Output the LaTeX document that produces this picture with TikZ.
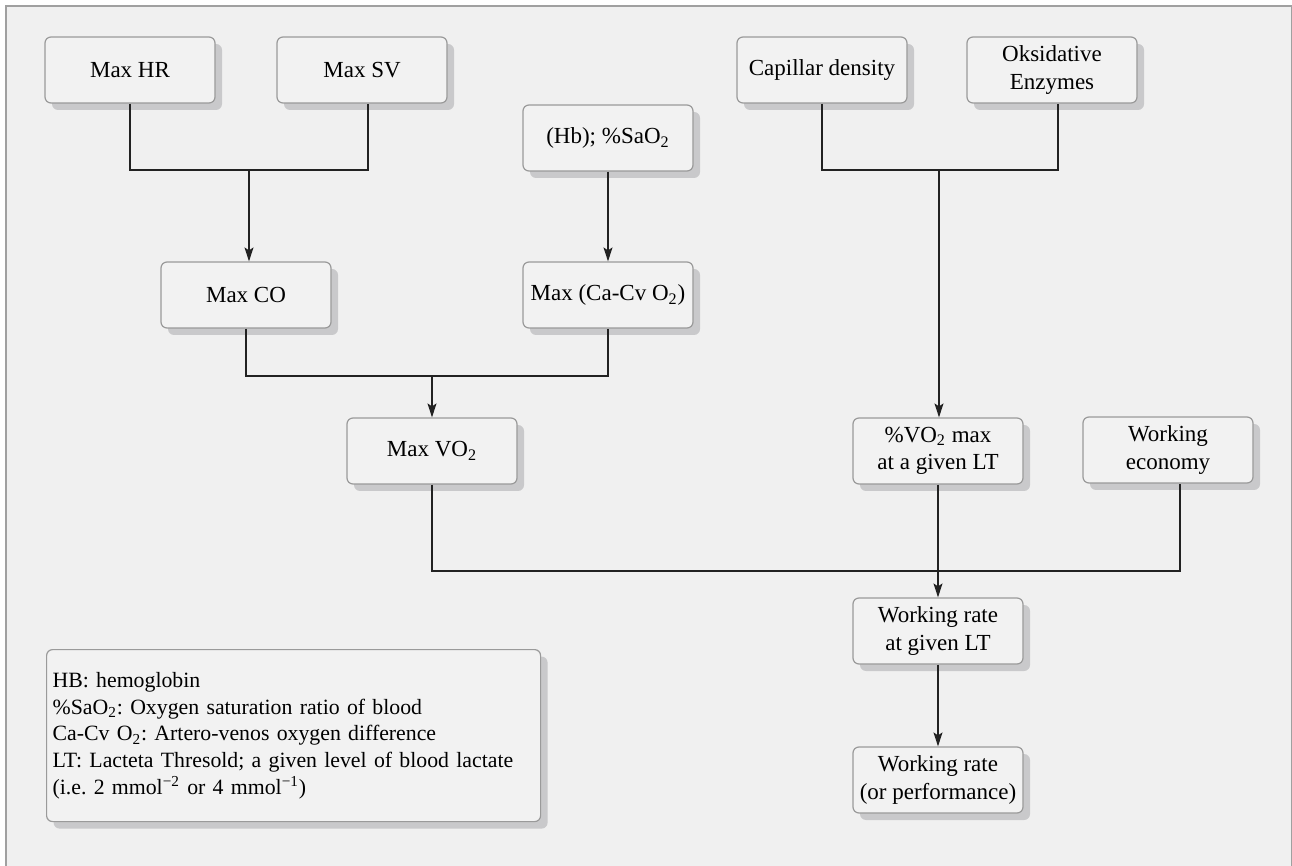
\documentclass[tikz,border=0pt]{standalone}
\usepackage{fontspec}
\setmainfont{Liberation Serif}
\usetikzlibrary{arrows.meta,shadows,calc}
\definecolor{bgc}{HTML}{F0F0F0}
\definecolor{boxfill}{HTML}{F2F2F2}
\definecolor{boxline}{HTML}{9A9A9A}
\definecolor{shadowc}{HTML}{C9C9CB}
\definecolor{framec}{HTML}{A0A0A0}
\definecolor{linec}{HTML}{222222}
\newcommand{\sub}[1]{\textsubscript{#1}}
\frenchspacing
\begin{document}
\begin{tikzpicture}[x=0.5pt,y=-0.5pt,
  box/.style={draw=boxline, line width=0.6pt, fill=boxfill, rounded corners=3pt,
    minimum width=85pt, minimum height=33pt, align=center, inner sep=2pt,
    font=\fontsize{11.5}{13.8}\selectfont,
    drop shadow={shadow xshift=3.5pt, shadow yshift=-3.5pt, fill=shadowc, opacity=1}},
  legendbox/.style={box, align=left, text width=241pt, inner xsep=3pt, inner ysep=2pt,
    minimum height=86pt, font=\fontsize{10.9}{13.4}\selectfont},
  conn/.style={draw=linec, line width=0.65pt},
  arr/.style={conn, -{Stealth[length=7pt,width=4.5pt,inset=1.5pt]}}]
\useasboundingbox (0,0) rectangle (1292,866);
\fill[bgc] (6,6) rectangle (1292,866);
\draw[framec, line width=0.6pt] (6,866) -- (6,6) -- (1291.5,6) -- (1291.5,866);

\node[box] (HR) at (130,70) {Max HR};
\node[box] (SV) at (362,70) {Max SV};
\node[box] (Hb) at (608,138) {(Hb); \%SaO\sub{2}};
\node[box] (Cap) at (822,70) {Capillar density};
\node[box] (Ok) at (1052,70) {Oksidative\\Enzymes};
\node[box] (CO) at (246,295) {Max CO};
\node[box] (CaCv) at (608,295) {Max (Ca-Cv O\sub{2})};
\node[box] (VO2) at (432,451) {Max VO\sub{2}};
\node[box] (PV) at (938,451) {\%VO\sub{2} max\\at a given LT};
\node[box] (WE) at (1168,450) {Working\\economy};
\node[box] (WR1) at (938,631) {Working rate\\at given LT};
\node[box] (WR2) at (938,780) {Working rate\\(or performance)};

\node[legendbox, anchor=north west] (leg) at (46,649) {\mbox{HB: hemoglobin}\\
\mbox{\%SaO\sub{2}: Oxygen saturation ratio of blood}\\
\mbox{Ca-Cv O\sub{2}: Artero-venos oxygen difference}\\
\mbox{LT: Lacteta Thresold; a given level of blood lactate}\\
\mbox{(i.e. 2 mmol\textsuperscript{−2} or 4 mmol\textsuperscript{−1})}};

% top-left group
\coordinate (j1) at (249,170);
\draw[conn] (HR.south) |- (j1) -| ([xshift=3pt]SV.south);
\draw[arr] (j1) -- (j1 |- CO.north);
\draw[arr] (Hb.south) -- (CaCv.north);
% middle group
\coordinate (j2) at (432,376);
\draw[conn] (CO.south) |- (j2) -| (CaCv.south);
\draw[arr] (j2) -- (VO2.north);
% top-right group
\coordinate (j3) at (939,170);
\draw[conn] (Cap.south) |- (j3) -| ([xshift=3pt]Ok.south);
\draw[arr] (j3) -- (j3 |- PV.north);
% bottom group
\coordinate (j4) at (938,571);
\draw[conn] (VO2.south) |- (j4) -| ([xshift=6pt]WE.south);
\draw[arr] (PV.south) -- (WR1.north);
\draw[arr] (WR1.south) -- (WR2.north);
\end{tikzpicture}
\end{document}
